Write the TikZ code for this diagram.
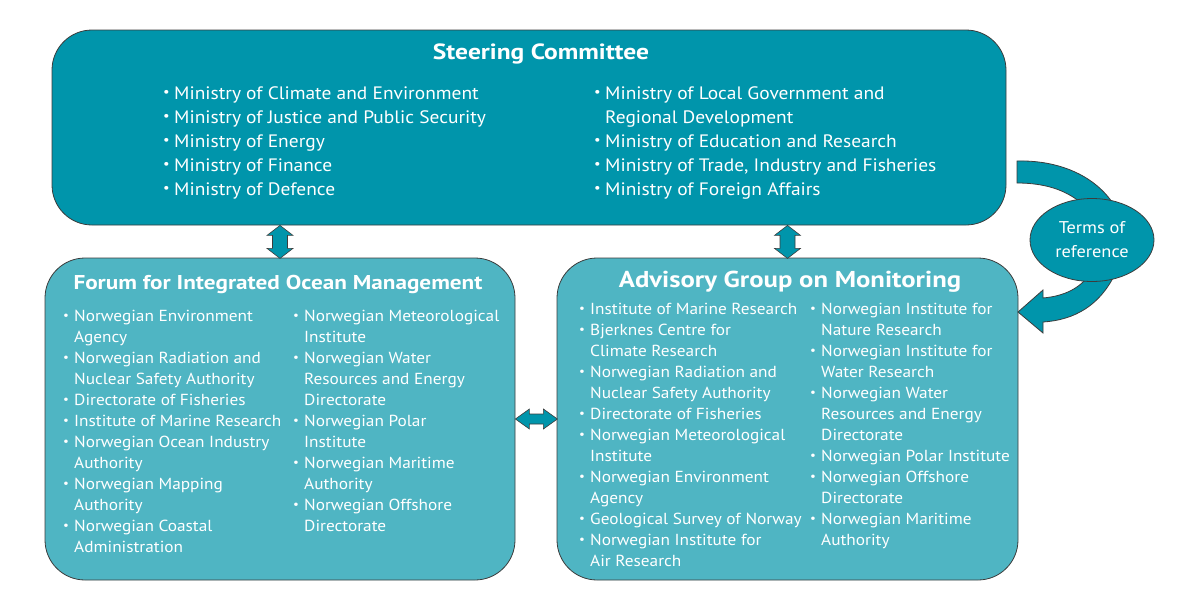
\documentclass[tikz,border=0pt]{standalone}
\usepackage{fontspec}
\setmainfont{PT Sans}[FakeStretch=1.08, BoldFeatures={FakeStretch=1.16}]
\usetikzlibrary{shapes.geometric}
\definecolor{deepteal}{HTML}{0095AB}
\definecolor{paleteal}{HTML}{4FB5C3}
\definecolor{edgegray}{HTML}{3C3C3C}
\newcommand\orgitem{\makebox[11pt][l]{\raisebox{0.25ex}{\scalebox{0.75}{\textbullet}}}}
\newcommand\orgcont{\hspace*{11pt}}

\begin{document}
\begin{tikzpicture}[x=1pt,y=-1pt,
  panel/.style={draw=edgegray, line width=0.8pt, rounded corners=40pt, inner sep=0pt},
  headline/.style={text=white, inner sep=0pt, font=\bfseries\fontsize{22}{26}\selectfont},
  toplist/.style={text=white, anchor=north west, inner sep=0pt, align=left, font=\fontsize{18}{24}\selectfont},
  sublist/.style={text=white, anchor=north west, inner sep=0pt, align=left, font=\fontsize{16}{21}\selectfont},
  linkarrow/.style={draw=edgegray, fill=deepteal, line width=0.6pt, line join=miter}]
\useasboundingbox (0,0) rectangle (1200,611);

% boxes
\node[panel, fill=deepteal, minimum width=954pt, minimum height=195pt] (steer) at (529,127.5) {};
\node[panel, fill=paleteal, minimum width=470pt, minimum height=322pt] (forum) at (280,419) {};
\node[panel, fill=paleteal, minimum width=461pt, minimum height=322pt] (advisory) at (787.5,419) {};

% titles
\node[headline] (steertitle) at (541,54) {Steering Committee};
\node[headline, font=\bfseries\fontsize{20}{24}\selectfont] (forumtitle) at (278,284) {Forum for Integrated Ocean Management};
\node[headline, font=\bfseries\fontsize{23}{27}\selectfont] (advtitle) at (790,282) {Advisory Group on Monitoring};

% steering committee members
\node[toplist] (steerleft) at (163,86) {\orgitem Ministry of Climate and Environment\\
  \orgitem Ministry of Justice and Public Security\\
  \orgitem Ministry of Energy\\
  \orgitem Ministry of Finance\\
  \orgitem Ministry of Defence};
\node[toplist] (steerright) at (594,86) {\orgitem Ministry of Local Government and\\
  \orgcont Regional Development\\
  \orgitem Ministry of Education and Research\\
  \orgitem Ministry of Trade, Industry and Fisheries\\
  \orgitem Ministry of Foreign Affairs};

% forum members
\node[sublist] (forumleft) at (63,310) {\orgitem Norwegian Environment\\
  \orgcont Agency\\
  \orgitem Norwegian Radiation and\\
  \orgcont Nuclear Safety Authority\\
  \orgitem Directorate of Fisheries\\
  \orgitem Institute of Marine Research\\
  \orgitem Norwegian Ocean Industry\\
  \orgcont Authority\\
  \orgitem Norwegian Mapping\\
  \orgcont Authority\\
  \orgitem Norwegian Coastal\\
  \orgcont Administration};
\node[sublist] (forumright) at (293,310) {\orgitem Norwegian Meteorological\\
  \orgcont Institute\\
  \orgitem Norwegian Water\\
  \orgcont Resources and Energy\\
  \orgcont Directorate\\
  \orgitem Norwegian Polar\\
  \orgcont Institute\\
  \orgitem Norwegian Maritime\\
  \orgcont Authority\\
  \orgitem Norwegian Offshore\\
  \orgcont Directorate};

% advisory group members
\node[sublist] (advleft) at (579,303) {\orgitem Institute of Marine Research\\
  \orgitem Bjerknes Centre for\\
  \orgcont Climate Research\\
  \orgitem Norwegian Radiation and\\
  \orgcont Nuclear Safety Authority\\
  \orgitem Directorate of Fisheries\\
  \orgitem Norwegian Meteorological\\
  \orgcont Institute\\
  \orgitem Norwegian Environment\\
  \orgcont Agency\\
  \orgitem Geological Survey of Norway\\
  \orgitem Norwegian Institute for\\
  \orgcont Air Research};
\node[sublist] (advright) at (810,303) {\orgitem Norwegian Institute for\\
  \orgcont Nature Research\\
  \orgitem Norwegian Institute for\\
  \orgcont Water Research\\
  \orgitem Norwegian Water\\
  \orgcont Resources and Energy\\
  \orgcont Directorate\\
  \orgitem Norwegian Polar Institute\\
  \orgitem Norwegian Offshore\\
  \orgcont Directorate\\
  \orgitem Norwegian Maritime\\
  \orgcont Authority};

% double arrows between the boxes
\draw[linkarrow] (forum.north |- steer.south) -- ++(13,10) -- ++(-5.5,0) -- ++(0,13) -- ++(5.5,0)
  -- ++(-13,10) -- ++(-13,-10) -- ++(5.5,0) -- ++(0,-13) -- ++(-5.5,0) -- cycle;
\draw[linkarrow] (advisory.north |- steer.south) -- ++(13,10) -- ++(-5.5,0) -- ++(0,13) -- ++(5.5,0)
  -- ++(-13,10) -- ++(-13,-10) -- ++(5.5,0) -- ++(0,-13) -- ++(-5.5,0) -- cycle;
\draw[linkarrow] (forum.east) -- ++(14,-10) -- ++(0,5) -- ++(14,0) -- ++(0,-5) -- ++(14,10)
  -- ++(-14,10) -- ++(0,-5) -- ++(-14,0) -- ++(0,5) -- cycle;

% curved arrow through the terms of reference
\path[linkarrow, line width=0.8pt] (1017,161) .. controls (1058,160) and (1093,175) .. (1112,202)
  -- (1080,202) .. controls (1065,190) and (1045,183) .. (1017,183) -- cycle;
\path[linkarrow, line width=0.8pt] (1115,274) .. controls (1100,305) and (1075,320) .. (1043,322)
  -- (1043,333) -- (1018,312) -- (1043,290) -- (1043,298)
  .. controls (1065,296) and (1080,288) .. (1090,274) -- cycle;
\node[ellipse, draw=edgegray, line width=0.8pt, fill=deepteal, minimum width=124pt, minimum height=83pt,
  inner sep=0pt, text=white, align=center, font=\fontsize{17}{24}\selectfont] (terms) at (1092,240) {Terms of\\reference};
\end{tikzpicture}
\end{document}
